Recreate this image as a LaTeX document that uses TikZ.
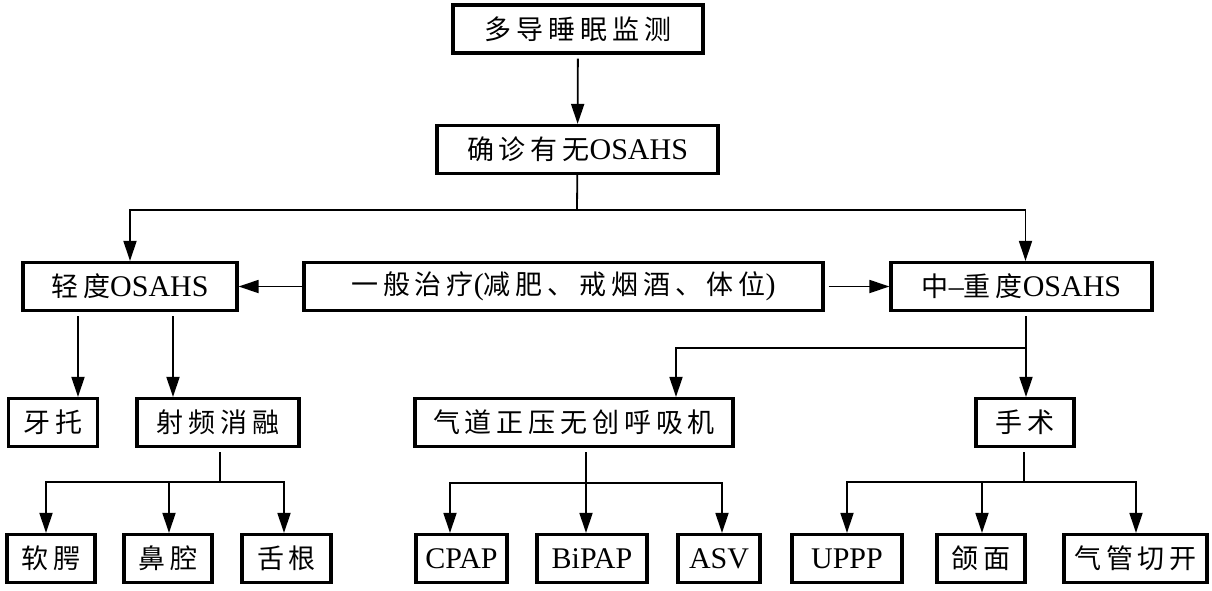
\documentclass[tikz,border=0pt]{standalone}
\usepackage{fontspec}
\setmainfont{Liberation Serif}
\newfontfamily\cjk[Scale=0.9,LetterSpace=18]{Noto Sans CJK SC}
\usetikzlibrary{arrows.meta}

\begin{document}
\begin{tikzpicture}[x=1pt,y=-1pt,
	box/.style={draw,line width=3.2pt,minimum height=48pt,inner sep=0pt,
		font=\fontsize{30}{32}\selectfont},
	link/.style={line width=1.8pt},
	arr/.style={link,-{Triangle[length=20pt,width=13pt]}},
	gap/.style={shorten <=4pt}]
\useasboundingbox (0,0) rectangle (1212,590);

% top
\node[box,minimum width=250] (psg) at (578,29) {\cjk 多导睡眠监测};
\node[box,minimum width=281] (diag) at (577.5,149.5) {{\cjk 确诊有无}OSAHS};

% second level
\node[box,minimum width=214] (mild) at (130,286.5) {{\cjk 轻度}OSAHS};
\node[box,minimum width=519] (gen) at (563.5,286.5)
	{{\cjk 一般治疗}({\cjk 减肥、戒烟酒、体位})};
\node[box,minimum width=261] (severe) at (1021.5,286.5) {{\cjk 中}–{\cjk 重度}OSAHS};

% third level
\node[box,minimum width=89] (tray) at (53,422.5) {\cjk 牙托};
\node[box,minimum width=162] (rf) at (218,422.5) {\cjk 射频消融};
\node[box,minimum width=318] (pap) at (574,422.5) {\cjk 气道正压无创呼吸机};
\node[box,minimum width=98] (surg) at (1025,422.5) {\cjk 手术};

% bottom row
\node[box,minimum width=88] (palate) at (51,558.5) {\cjk 软腭};
\node[box,minimum width=88] (nasal) at (168,558.5) {\cjk 鼻腔};
\node[box,minimum width=89] (tongue) at (286.5,558.5) {\cjk 舌根};
\node[box,minimum width=91] (cpap) at (461.5,558.5) {CPAP};
\node[box,minimum width=110] (bipap) at (592,558.5) {BiPAP};
\node[box,minimum width=82] (asv) at (719,558.5) {ASV};
\node[box,minimum width=110] (uppp) at (847,558.5) {UPPP};
\node[box,minimum width=88] (jaw) at (981,558.5) {\cjk 颌面};
\node[box,minimum width=143] (trach) at (1135.5,558.5) {\cjk 气管切开};

% forks
\coordinate (fkdiag) at (577,210);
\coordinate (fkrf) at (220,482);
\coordinate (fkpap) at (586,483);
\coordinate (fksev) at (1026,348);
\coordinate (fksurg) at (1024,482);

\draw[arr,gap] (psg) -- (diag);
\draw[link] (diag) -- (fkdiag);
\draw[arr] (fkdiag) -| (mild);
\draw[arr] (fkdiag) -| ([xshift=4pt]severe.north);
\draw[arr] (gen) -- (mild);
\draw[arr,gap] (gen) -- (severe);

\draw[arr,gap] ([xshift=-52pt]mild.south) -- ([xshift=25pt]tray.north);
\draw[arr,gap] ([xshift=43pt]mild.south) -- ([xshift=-45pt]rf.north);
\draw[link,gap] ([xshift=2pt]rf.south) -- (fkrf);
\draw[arr] (fkrf) -| ([xshift=-5pt]palate.north);
\draw[arr] (fkrf) -| ([xshift=1pt]nasal.north);
\draw[arr] (fkrf) -| ([xshift=-2.5pt]tongue.north);

\draw[link,gap] ([xshift=4.5pt]severe.south) -- (fksev);
\draw[arr] (fksev) -| ([xshift=102pt]pap.north);
\draw[arr] (fksev) -- ([xshift=1pt]surg.north);
\draw[arr,gap] ([xshift=12pt]pap.south) -- ([xshift=-6pt]bipap.north);
\draw[arr] (fkpap) -| ([xshift=-11.5pt]cpap.north);
\draw[arr] (fkpap) -| ([xshift=3pt]asv.north);

\draw[link,gap] ([xshift=-1pt]surg.south) -- (fksurg);
\draw[arr] (fksurg) -| (uppp);
\draw[arr] (fksurg) -| ([xshift=1pt]jaw.north);
\draw[arr] (fksurg) -| ([xshift=0.5pt]trach.north);
\end{tikzpicture}
\end{document}
